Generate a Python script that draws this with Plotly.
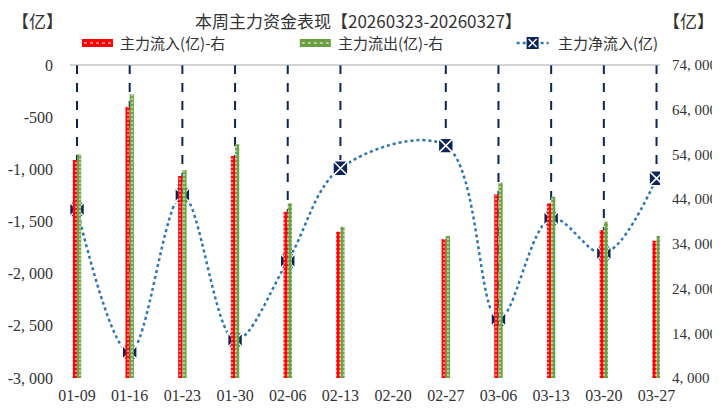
import plotly.graph_objects as go

# ---- data ----
dates = ["01-09", "01-16", "01-23", "01-30", "02-06", "02-13",
         "02-20", "02-27", "03-06", "03-13", "03-20", "03-27"]
inflow = [52750, 64680, 49170, 53650, 41190, 36720,
          None, 35080, 45150, 43060, 37100, 34710]
outflow = [54020, 67440, 50520, 56260, 43060, 37840,
           None, 35750, 47680, 44550, 38950, 35750]
net = [-1383, -2754, -1246, -2636, -1879, -990,
       None, -773, -2438, -1470, -1805, -1086]

left_ticks = [0, -500, -1000, -1500, -2000, -2500, -3000]
left_ticktext = ["0", "-500", "-1, 000", "-1, 500", "-2, 000", "-2, 500", "-3, 000"]
right_ticks = [4000, 14000, 24000, 34000, 44000, 54000, 64000, 74000]
right_ticktext = ["4, 000", "14, 000", "24, 000", "34, 000",
                  "44, 000", "54, 000", "64, 000", "74, 000"]

names = ["主力流入(亿)-右", "主力流出(亿)-右", "主力净流入(亿)"]
title = "本周主力资金表现【20260323-20260327】"
unit = "【亿】"

CJK = "Noto Sans CJK SC"
SERIF = "Liberation Serif"
NAVY = "#0B2559"
RED = "#FF0000"
GREEN = "#6A9F3F"
BLUE = "#2E75B6"
TXT = "#333333"

# the page body has an 8px margin; work in page pixels and shift
OFF = 8
W, H = 720 - OFF, 414 - OFF
PL, PR, PT, PB = 70, 660.5, 65, 378          # plot area in page pixels
ML, MR, MT, MB = PL - OFF, W - (PR - OFF), PT - OFF, H - (PB - OFF)
PW = W - ML - MR
PH = H - MT - MB


def px_x(px):
    return (px - PL) / PW


def px_y(py):
    return (PB - py) / PH


fig = go.Figure()

fig.add_trace(go.Bar(
    x=dates, y=inflow, name=names[0], yaxis="y2",
    marker=dict(color=RED, line=dict(width=0),
                pattern=dict(shape=".", fgcolor="white", size=4, solidity=0.3)),
))
fig.add_trace(go.Bar(
    x=dates, y=outflow, name=names[1], yaxis="y2",
    marker=dict(color=GREEN, line=dict(width=0),
                pattern=dict(shape=".", fgcolor="white", size=4, solidity=0.3)),
))

# dashed drop lines from 0 to each net value
dx, dy = [], []
for d, v in zip(dates, net):
    if v is None:
        continue
    dx += [d, d, None]
    dy += [0, v, None]
fig.add_trace(go.Scatter(
    x=dx, y=dy, mode="lines", yaxis="y", showlegend=False, hoverinfo="skip",
    line=dict(color=NAVY, width=2, dash="dash"),
))

fig.add_trace(go.Scatter(
    x=dates, y=net, name=names[2], yaxis="y", mode="lines+markers",
    connectgaps=True,
    line=dict(color=BLUE, width=2.5, dash="dot", shape="spline"),
    marker=dict(symbol="square-x", size=15, color=NAVY,
                line=dict(color="white", width=1.6)),
))

fig.update_layout(
    width=W, height=H,
    margin=dict(l=ML, r=MR, t=MT, b=MB, autoexpand=False),
    paper_bgcolor="white", plot_bgcolor="white",
    barmode="group", bargap=0.84, bargroupgap=0,
    font=dict(family=CJK, color=TXT),
    showlegend=False,
    xaxis=dict(type="category", range=[-0.133, 11.066], showgrid=False,
               showline=False, zeroline=False, ticks="",
               tickfont=dict(family=SERIF, size=16, color=TXT),
               ticklabelstandoff=6),
    yaxis=dict(range=[-3000, 0], tickvals=left_ticks, ticktext=left_ticktext,
               showgrid=False, zeroline=False, showline=False, ticks="",
               tickfont=dict(family=SERIF, size=16, color=TXT),
               ticklabelstandoff=16),
    yaxis2=dict(range=[4000, 74000], tickvals=right_ticks, ticktext=right_ticktext,
                overlaying="y", side="right", showgrid=False, zeroline=False,
                showline=False, ticks="",
                tickfont=dict(family=SERIF, size=15, color=TXT),
                ticklabelstandoff=11),
)

# top axis line
fig.add_shape(type="line", xref="paper", yref="paper", x0=0, x1=1, y0=1, y1=1,
              line=dict(color="#A6A6A6", width=1))

# title
fig.add_annotation(text=title, xref="paper", yref="paper", x=px_x(359), y=px_y(20),
                   xanchor="center", yanchor="middle", showarrow=False,
                   font=dict(family=CJK, size=17, color=TXT))

# manual legend
ly = px_y(43)
ly0, ly1 = px_y(47), px_y(39)
for x0, x1, col in [(82, 113, RED), (300, 331, GREEN)]:
    fig.add_shape(type="rect", xref="paper", yref="paper",
                  x0=px_x(x0), x1=px_x(x1), y0=ly0, y1=ly1,
                  fillcolor=col, line=dict(width=0))
    fig.add_shape(type="line", xref="paper", yref="paper",
                  x0=px_x(x0 + 2), x1=px_x(x1 - 2), y0=ly, y1=ly,
                  line=dict(color="white", width=1, dash="dot"))
fig.add_shape(type="line", xref="paper", yref="paper",
              x0=px_x(517), x1=px_x(549), y0=ly, y1=ly,
              line=dict(color=BLUE, width=2.5, dash="dot"))
# legend marker: navy square with white X
fig.add_shape(type="rect", xref="paper", yref="paper",
              x0=px_x(527), x1=px_x(539), y0=px_y(49), y1=px_y(37),
              fillcolor=NAVY, line=dict(width=0))
fig.add_shape(type="line", xref="paper", yref="paper",
              x0=px_x(529), x1=px_x(537), y0=px_y(47), y1=px_y(39),
              line=dict(color="white", width=1.5))
fig.add_shape(type="line", xref="paper", yref="paper",
              x0=px_x(529), x1=px_x(537), y0=px_y(39), y1=px_y(47),
              line=dict(color="white", width=1.5))
for xt, name in [(118, names[0]), (336, names[1]), (556, names[2])]:
    fig.add_annotation(text=name, xref="paper", yref="paper", x=px_x(xt), y=ly,
                       xanchor="left", yanchor="middle", showarrow=False,
                       font=dict(family=CJK, size=15, color=TXT))

fig.add_annotation(text=unit, xref="paper", yref="paper", x=px_x(10), y=px_y(20),
                   xanchor="left", yanchor="middle", showarrow=False,
                   font=dict(family=CJK, size=17, color=TXT))
fig.add_annotation(text=unit, xref="paper", yref="paper", x=px_x(717), y=px_y(20),
                   xanchor="right", yanchor="middle", showarrow=False,
                   font=dict(family=CJK, size=17, color=TXT))

fig.write_html("out.html")
